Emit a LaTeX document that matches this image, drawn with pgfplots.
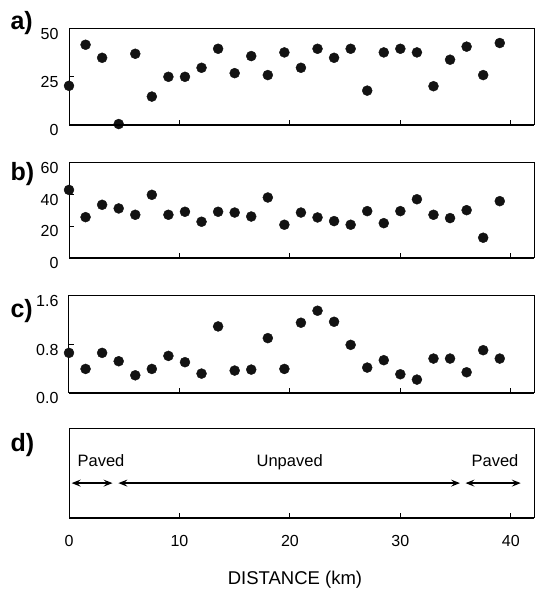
\documentclass[border=0pt]{standalone}
\usepackage{fontspec}
\setmainfont{Liberation Sans}
\usepackage{pgfplots}
\pgfplotsset{compat=1.18}
\usetikzlibrary{arrows.meta}

\pgfplotsset{
 panel/.style={
  scale only axis, width=465pt, xmin=0, xmax=42.1,
  xtick={0,10,20,30,40}, xticklabels={},
  tick align=inside, major tick length=5pt,
  tick style={black, line width=1pt},
  axis line style={line width=1pt},
  xtick pos=bottom, ytick pos=left,
  clip=false,
  tick label style={font=\fontsize{16}{18}\selectfont},
  yticklabel style={yshift=-5pt, xshift=-7pt},
  /pgf/number format/assume math mode=true,
  after end axis/.code={\draw[line width=2pt] (rel axis cs:0,0) -- (rel axis cs:1,0);},
 },
 dots/.style={only marks, mark=*, mark size=5pt, color=black!93},
 arr/.style={line width=1.3pt, black, {Stealth[length=9pt,width=7pt,inset=3.5pt]}-{Stealth[length=9pt,width=7pt,inset=3.5pt]}},
}

\begin{document}
\begin{tikzpicture}
\useasboundingbox (0,0) rectangle (535pt,589pt);

% panel a
\begin{axis}[panel, at={(69pt,464pt)}, anchor=south west, height=96pt,
  ymin=0, ymax=50, ytick={0,25,50}, yticklabels={0,25,50}]
\addplot[dots] coordinates {
(0,20.4) (1.5,41.8) (3,35.0) (4.5,0.5) (6,37.1) (7.5,14.8) (9,25.1) (10.5,25.1)
(12,29.8) (13.5,39.7) (15,27.0) (16.5,35.9) (18,26.0) (19.5,37.8) (21,29.8)
(22.5,39.7) (24,35.0) (25.5,39.7) (27,17.9) (28.5,37.8) (30,39.7) (31.5,37.8)
(33,20.2) (34.5,34.0) (36,40.8) (37.5,26.0) (39,42.7)};
\end{axis}

% panel b
\begin{axis}[panel, at={(69pt,331pt)}, anchor=south west, height=95pt,
  ymin=0, ymax=60, ytick={0,20,40,60}, yticklabels={0,20,40,60}]
\addplot[dots] coordinates {
(0,43.0) (1.5,25.8) (3,33.6) (4.5,31.3) (6,27.3) (7.5,39.9) (9,27.3) (10.5,29.2)
(12,22.9) (13.5,29.2) (15,28.7) (16.5,26.2) (18,38.2) (19.5,21.0) (21,28.7)
(22.5,25.6) (24,23.3) (25.5,21.0) (27,29.6) (28.5,22.0) (30,29.6) (31.5,37.1)
(33,27.3) (34.5,25.2) (36,30.2) (37.5,12.8) (39,35.9)};
\end{axis}

% panel c
\begin{axis}[panel, at={(69pt,196pt)}, anchor=south west, height=97pt,
  ymin=0, ymax=1.6, ytick={0,0.8,1.6}, yticklabels={0.0,0.8,1.6}]
\addplot[dots] coordinates {
(0,0.662) (1.5,0.397) (3,0.662) (4.5,0.524) (6,0.292) (7.5,0.397) (9,0.612)
(10.5,0.508) (12,0.320) (13.5,1.098) (15,0.370) (16.5,0.386) (18,0.905)
(19.5,0.397) (21,1.159) (22.5,1.357) (24,1.175) (25.5,0.794) (27,0.419)
(28.5,0.541) (30,0.309) (31.5,0.221) (33,0.568) (34.5,0.568) (36,0.342)
(37.5,0.706) (39,0.568)};
\end{axis}

% panel d
\begin{axis}[panel, at={(69pt,71pt)}, anchor=south west, height=89pt,
  ymin=0, ymax=1, ytick=\empty, xticklabels={0,10,20,30,40},
  xticklabel style={yshift=-14pt}]
\addplot[arr] coordinates {(0.24,0.392) (3.94,0.392)};
\addplot[arr] coordinates {(4.47,0.392) (35.4,0.392)};
\addplot[arr] coordinates {(35.9,0.392) (40.9,0.392)};
\node[anchor=base, font=\fontsize{16.5}{18}\selectfont] at (axis cs:2.9,0.575) {Paved};
\node[anchor=base, font=\fontsize{16.5}{18}\selectfont] at (axis cs:19.98,0.575) {Unpaved};
\node[anchor=base, font=\fontsize{16.5}{18}\selectfont] at (axis cs:38.57,0.575) {Paved};
\end{axis}

\node[anchor=base, font=\fontsize{18.5}{20}\selectfont] at (295pt,4pt) {DISTANCE (km)};
\node[anchor=base west, font=\fontsize{25}{27}\selectfont\bfseries] at (7pt,559pt) {a)};
\node[anchor=base west, font=\fontsize{25}{27}\selectfont\bfseries] at (7pt,408pt) {b)};
\node[anchor=base west, font=\fontsize{25}{27}\selectfont\bfseries] at (7pt,271pt) {c)};
\node[anchor=base west, font=\fontsize{25}{27}\selectfont\bfseries] at (7pt,137pt) {d)};
\end{tikzpicture}
\end{document}
